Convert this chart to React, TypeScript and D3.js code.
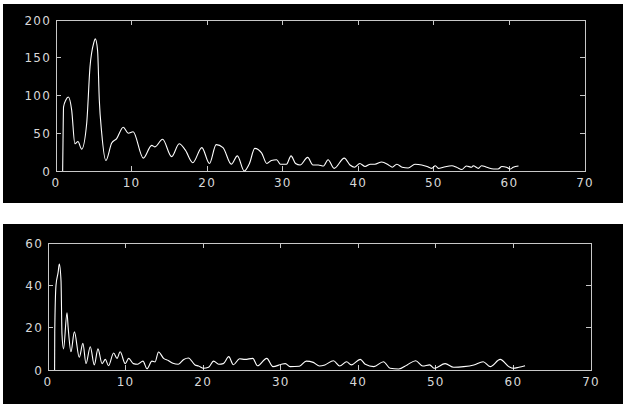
import React from "react";
import * as d3 from "d3";

// ---- data ----
const topXTicks = [0, 10, 20, 30, 40, 50, 60, 70];
const topYTicks = [0, 50, 100, 150, 200];
const bottomXTicks = [0, 10, 20, 30, 40, 50, 60, 70];
const bottomYTicks = [0, 20, 40, 60];

const topSeries: [number, number][] = [
  [0.88, 0], [0.93, 41], [1.0, 85], [1.3, 94], [1.63, 98], [2.07, 81], [2.5, 36], [2.65, 37],
  [2.9, 39], [3.4, 29], [4.06, 63], [4.5, 138], [5.0, 170], [5.2, 175], [5.5, 160], [5.73, 94],
  [6.05, 50], [6.6, 14], [7.37, 37], [8.03, 43], [8.9, 58], [9.57, 50], [10.2, 52], [11.55, 17],
  [12.66, 34], [13.1, 32], [14.1, 42], [15.3, 19], [16.3, 36], [17.1, 28], [18.1, 11], [19.3, 31],
  [20.3, 10], [21.2, 35], [22.1, 31], [23.2, 9], [24.0, 20], [24.9, 0], [25.6, 10], [26.3, 30],
  [27.2, 24], [27.9, 10], [28.5, 14], [29.2, 15], [29.7, 9], [30.5, 9], [31.1, 20], [31.7, 10],
  [32.3, 8], [33.3, 18], [34.0, 8], [34.7, 8], [35.4, 6.6], [36.0, 15], [36.8, 3.5], [38.15, 17],
  [38.9, 8], [39.5, 5], [40.2, 10], [40.9, 6], [41.6, 9], [42.2, 9], [43.1, 12], [44.0, 8],
  [44.5, 5], [45.1, 9], [45.8, 5], [46.6, 4], [47.5, 9], [48.4, 8], [49.1, 6], [49.7, 3.5],
  [50.2, 7], [50.6, 3.5], [51.25, 5], [52.4, 7], [53.0, 5], [53.7, 2], [54.3, 6.6], [55.0, 5],
  [55.2, 7], [55.9, 3.5], [56.3, 7], [57.0, 5], [57.9, 2.6], [58.5, 2.6], [59.0, 6], [59.6, 5],
  [60.1, 2.6], [60.5, 5], [61.2, 6.6],
];

const bottomSeries: [number, number][] = [
  [0.85, 0], [0.87, 18], [1.03, 40], [1.3, 46], [1.46, 50], [1.68, 42], [1.8, 17], [2.0, 10],
  [2.45, 27], [2.6, 20], [2.96, 8.6], [3.4, 18], [4.03, 6], [4.5, 12.6], [4.9, 3], [5.45, 11],
  [5.97, 2.4], [6.44, 10], [6.97, 3], [7.4, 5], [7.8, 2], [8.46, 8], [8.9, 5.5], [9.3, 8.6],
  [9.96, 3], [10.4, 5.5], [11.0, 3], [11.55, 2.7], [12.24, 4.2], [12.76, 0.6], [13.4, 4.2],
  [13.8, 3.8], [14.25, 8.5], [14.9, 5.5], [15.5, 4.5], [16.1, 3.2], [16.8, 2.7], [17.5, 5],
  [18.1, 5.7], [18.95, 2.4], [19.4, 1.9], [20.05, 0.8], [20.7, 1.3], [21.35, 4.2], [22.0, 2.7],
  [22.6, 3], [23.3, 6.3], [23.9, 2.5], [24.7, 5.3], [25.4, 5], [26.4, 5.5], [27.0, 2],
  [28.2, 5.5], [29.0, 1.6], [30.1, 2.7], [30.6, 3], [31.2, 1.6], [32.4, 1.8], [33.3, 4.2],
  [34.2, 3.6], [35.0, 1.9], [35.7, 2.4], [36.8, 4.4], [37.6, 1.9], [38.5, 3.9], [39.1, 2.4],
  [40.25, 5], [40.9, 2.7], [42.0, 1.6], [43.25, 3.9], [44.1, 0.8], [45.2, 0.5], [46.3, 2.4],
  [47.4, 4.4], [48.3, 1.9], [49.2, 2.4], [49.8, 0.8], [51.2, 3], [52.3, 1.3], [53.6, 1.6],
  [54.9, 2.4], [56.1, 3.9], [57.0, 1.6], [58.3, 5], [59.4, 1.6], [60.0, 0.8], [60.7, 1.3],
  [61.5, 2],
];

const AXIS = "#c8c8c8";
const TEXT = "#d8d8d8";
const FONT = "'DejaVu Sans', sans-serif";

type PanelProps = {
  bg: [number, number, number, number];
  box: { left: number; right: number; top: number; bottom: number };
  xTicks: number[];
  yTicks: number[];
  series: [number, number][];
};

function Panel({ bg, box, xTicks, yTicks, series }: PanelProps) {
  const x = d3.scaleLinear().domain([xTicks[0], xTicks[xTicks.length - 1]]).range([box.left, box.right]);
  const y = d3.scaleLinear().domain([yTicks[0], yTicks[yTicks.length - 1]]).range([box.bottom, box.top]);
  const line = d3
    .line<[number, number]>()
    .x((d) => x(d[0]))
    .y((d) => y(d[1]))
    .curve(d3.curveMonotoneX);
  const tl = 5;
  return (
    <g>
      <rect x={bg[0]} y={bg[1]} width={bg[2]} height={bg[3]} fill="#000" />
      <g shapeRendering="crispEdges" stroke={AXIS} strokeWidth={1}>
        <rect x={box.left} y={box.top} width={box.right - box.left} height={box.bottom - box.top} fill="none" />
        {xTicks.map((t) => (
          <g key={"xt" + t}>
            <line x1={x(t)} x2={x(t)} y1={box.bottom} y2={box.bottom - tl} />
            <line x1={x(t)} x2={x(t)} y1={box.top} y2={box.top + tl} />
          </g>
        ))}
        {yTicks.map((t) => (
          <g key={"yt" + t}>
            <line x1={box.left} x2={box.left + tl} y1={y(t)} y2={y(t)} />
            <line x1={box.right} x2={box.right - tl} y1={y(t)} y2={y(t)} />
          </g>
        ))}
      </g>
      <path d={line(series) || ""} fill="none" stroke="#fff" strokeWidth={1.1} />
      <g fill={TEXT} fontFamily={FONT} fontSize={12} letterSpacing={1.2}>
        {xTicks.map((t) => (
          <text key={"xl" + t} x={x(t)} y={box.bottom + 16} textAnchor="middle">
            {t}
          </text>
        ))}
        {yTicks.map((t) => (
          <text key={"yl" + t} x={box.left - 5} y={y(t) + 4.5} textAnchor="end">
            {t}
          </text>
        ))}
      </g>
    </g>
  );
}

export default function App() {
  return (
    <svg
      width={623}
      height={404}
      style={{ position: "absolute", left: 0, top: 0, display: "block", background: "#fff" }}
    >
      <Panel
        bg={[3, 4, 620, 199]}
        box={{ left: 56, right: 585, top: 20, bottom: 171 }}
        xTicks={topXTicks}
        yTicks={topYTicks}
        series={topSeries}
      />
      <Panel
        bg={[3, 224, 620, 180]}
        box={{ left: 48, right: 591, top: 243, bottom: 370 }}
        xTicks={bottomXTicks}
        yTicks={bottomYTicks}
        series={bottomSeries}
      />
    </svg>
  );
}
